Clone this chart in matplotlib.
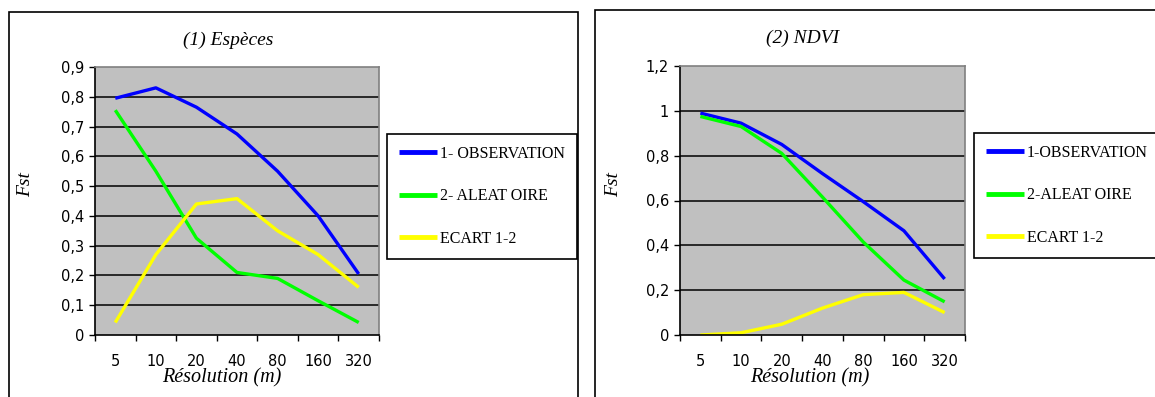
import matplotlib
matplotlib.use("Agg")
import matplotlib.pyplot as plt
from matplotlib.patches import Rectangle
import numpy as np

# data
resolutions = ["5", "10", "20", "40", "80", "160", "320"]
series_names = ["1- OBSERVATION", "2- ALEAT OIRE", "ECART 1-2"]
series_names_ndvi = ["1-OBSERVATION", "2-ALEAT OIRE", "ECART 1-2"]

especes_obs = [0.795, 0.83, 0.765, 0.675, 0.55, 0.40, 0.205]
especes_alea = [0.755, 0.55, 0.325, 0.21, 0.19, 0.115, 0.042]
especes_ecart = [0.042, 0.27, 0.44, 0.458, 0.35, 0.27, 0.16]

ndvi_obs = [0.99, 0.945, 0.85, 0.72, 0.595, 0.465, 0.25]
ndvi_alea = [0.975, 0.93, 0.81, 0.615, 0.415, 0.245, 0.148]
ndvi_ecart = [0.0, 0.01, 0.048, 0.12, 0.18, 0.19, 0.10]

colors = ["#0000FF", "#00FF00", "#FFFF00"]

W, H = 1155, 397
fig = plt.figure(figsize=(W / 100, H / 100), dpi=100)
fig.patch.set_facecolor("white")

serif = "Liberation Serif"
sans = "DejaVu Sans"


def px(x, y):            # pixel (from top-left) -> figure fraction
    return x / W, 1 - y / H


def panel(box, ax_box, title, title_xy, ylab_xy, xlab_xy, ymax, ystep,
          series, names, leg_xy):
    # outer frame of the panel
    fig.patches.append(Rectangle(px(box[0], box[3]), (box[2] - box[0]) / W,
                                 (box[3] - box[1]) / H, transform=fig.transFigure,
                                 fill=False, edgecolor="black", lw=1.2))
    l, t, r, b = ax_box
    ax = fig.add_axes([l / W, 1 - b / H, (r - l) / W, (b - t) / H])
    ax.set_facecolor("#C0C0C0")
    x = np.arange(len(resolutions))
    lines = []
    for vals, c in zip(series, colors):
        ln, = ax.plot(x, vals, color=c, lw=2.4, solid_capstyle="butt")
        lines.append(ln)
    ax.set_xlim(-0.5, len(resolutions) - 0.5)
    ax.set_ylim(0, ymax)
    yt = np.round(np.arange(0, ymax + ystep / 2, ystep), 2)
    ax.set_yticks(yt)
    ax.set_yticklabels([("%g" % v).replace(".", ",") for v in yt],
                       fontsize=10.5, family=sans)
    for v in yt[1:-1]:
        ax.axhline(v, color="black", lw=1.1, zorder=1)
    ax.set_xticks(np.arange(len(resolutions) + 1) - 0.5)
    ax.set_xticklabels([])
    ax.set_xticks(x, minor=True)
    ax.set_xticklabels(resolutions, minor=True, fontsize=10.5, family=sans)
    ax.tick_params(axis="x", which="minor", length=0, pad=14)
    ax.tick_params(axis="both", which="major", direction="out", length=4.5, width=1)
    for s in ["left", "bottom"]:
        ax.spines[s].set_color("black")
        ax.spines[s].set_linewidth(1.2)
    for s in ["top", "right"]:
        ax.spines[s].set_color("#808080")
        ax.spines[s].set_linewidth(1.2)
    fig.text(*px(*title_xy), title, family=serif, style="italic", fontsize=14,
             ha="center", va="center")
    fig.text(*px(*ylab_xy), "Fst", family=serif, style="italic", fontsize=14,
             ha="center", va="center", rotation=90)
    fig.text(*px(*xlab_xy), "Résolution (m)", family=serif, style="italic",
             fontsize=14.5, ha="center", va="center")
    leg = fig.legend(lines, names, loc="upper left", bbox_to_anchor=px(*leg_xy),
                     bbox_transform=fig.transFigure, fancybox=False, framealpha=1,
                     edgecolor="black", prop={"family": serif, "size": 11.5},
                     handlelength=2.4, handletextpad=0.15, labelspacing=1.65,
                     borderpad=0.75, borderaxespad=0)
    leg.get_frame().set_linewidth(1.2)
    for h in leg.get_lines():
        h.set_linewidth(3.5)
    return ax


panel((9, 12, 578, 400), (95, 67, 379, 335), "(1) Espèces", (228, 40),
      (26, 185), (222, 378), 0.9, 0.1,
      [especes_obs, especes_alea, especes_ecart], series_names, (387, 134))

panel((595, 10, 1160, 400), (680, 66, 965, 335), "(2) NDVI", (803, 38),
      (614, 185), (810, 378), 1.2, 0.2,
      [ndvi_obs, ndvi_alea, ndvi_ecart], series_names_ndvi, (974, 133))

fig.savefig("out.png", dpi=100)
